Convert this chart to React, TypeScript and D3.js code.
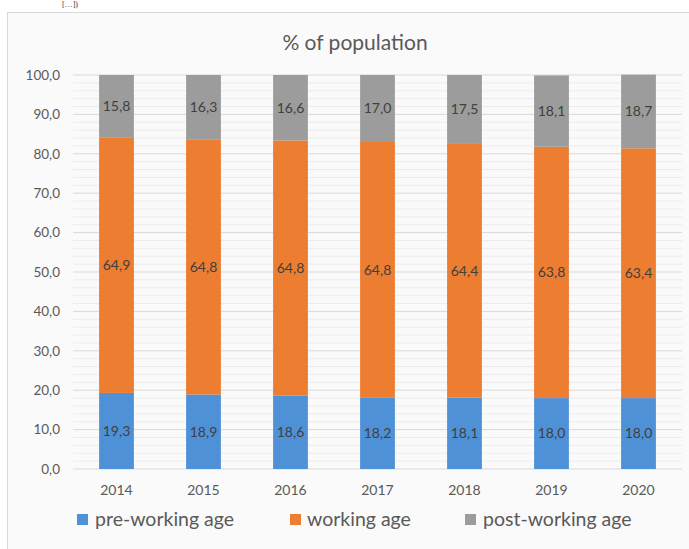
import React from "react";
import * as d3 from "d3";

const years = ["2014", "2015", "2016", "2017", "2018", "2019", "2020"];
const preWorking = [19.3, 18.9, 18.6, 18.2, 18.1, 18.0, 18.0];
const working = [64.9, 64.8, 64.8, 64.8, 64.4, 63.8, 63.4];
const postWorking = [15.8, 16.3, 16.6, 17.0, 17.5, 18.1, 18.7];
const seriesNames = ["pre-working age", "working age", "post-working age"];
const seriesColors = ["#4f91d7", "#ed7d31", "#9c9c9c"];
const yTicks = [0, 10, 20, 30, 40, 50, 60, 70, 80, 90, 100];
const title = "% of population";

const W = 689;
const H = 549;
const left = 73;
const right = 682;
const top = 75;
const bottom = 469;
const font = "Lato, 'Open Sans', sans-serif";

export default function App() {
  const x = d3.scaleBand<string>().domain(years).range([left, right]).paddingInner(0.6).paddingOuter(0.3);
  const y = d3.scaleLinear().domain([0, 100]).range([bottom, top]);
  const table = years.map((yr, i) => ({ year: yr, s0: preWorking[i], s1: working[i], s2: postWorking[i] }));
  const stack = d3.stack<any>().keys(["s0", "s1", "s2"])(table);
  const minorTicks = d3.range(0, 100.001, 2).filter((v) => v % 10 !== 0);
  const fmt = (v: number) => v.toFixed(1).replace(".", ",");
  const legendItems = [
    { sx: 77, tx: 95 },
    { sx: 290, tx: 307 },
    { sx: 465, tx: 483 },
  ];
  return (
    <svg width={W} height={H} style={{ position: "absolute", left: 0, top: 0, background: "#ffffff" }}>
      <text x={62} y={7} fontFamily="'Times New Roman', serif" fontSize={8} fill="#333">[…])</text>
      <rect x={7.5} y={12.5} width={W} height={H} fill="#fafafa" stroke="#d9d9d9" />
      <text x={355} y={50} textAnchor="middle" fontFamily={font} fontSize={21} fill="#595959">{title}</text>
      {minorTicks.map((t) => (
        <line key={"m" + t} x1={left} x2={right} y1={y(t)} y2={y(t)} stroke="#ececec" strokeWidth={1} />
      ))}
      {yTicks.map((t) => (
        <g key={t}>
          <line x1={left} x2={right} y1={y(t)} y2={y(t)} stroke="#d9d9d9" strokeWidth={1} />
          <text x={60} y={y(t)} dy="0.35em" textAnchor="end" fontFamily={font} fontSize={13.5} fill="#595959">{fmt(t)}</text>
        </g>
      ))}
      {stack.map((layer, si) => (
        <g key={si}>
          {layer.map((d, i) => (
            <rect key={i} x={x(years[i])} width={x.bandwidth()} y={y(d[1])} height={y(d[0]) - y(d[1])} fill={seriesColors[si]} />
          ))}
          {layer.map((d, i) => (
            <text key={"t" + i} x={(x(years[i]) as number) + x.bandwidth() / 2} y={y((d[0] + d[1]) / 2)} dy="0.35em" textAnchor="middle" fontFamily={font} fontSize={14} fill="#404040">
              {fmt(d[1] - d[0])}
            </text>
          ))}
        </g>
      ))}
      {years.map((yr) => (
        <text key={yr} x={(x(yr) as number) + x.bandwidth() / 2} y={490} dy="0.35em" textAnchor="middle" fontFamily={font} fontSize={14} fill="#595959">{yr}</text>
      ))}
      {seriesNames.map((n, i) => (
        <g key={n}>
          <rect x={legendItems[i].sx} y={514} width={11} height={11} fill={seriesColors[i]} />
          <text x={legendItems[i].tx} y={519.5} dy="0.35em" fontFamily={font} fontSize={19.5} fill="#595959">{n}</text>
        </g>
      ))}
    </svg>
  );
}
